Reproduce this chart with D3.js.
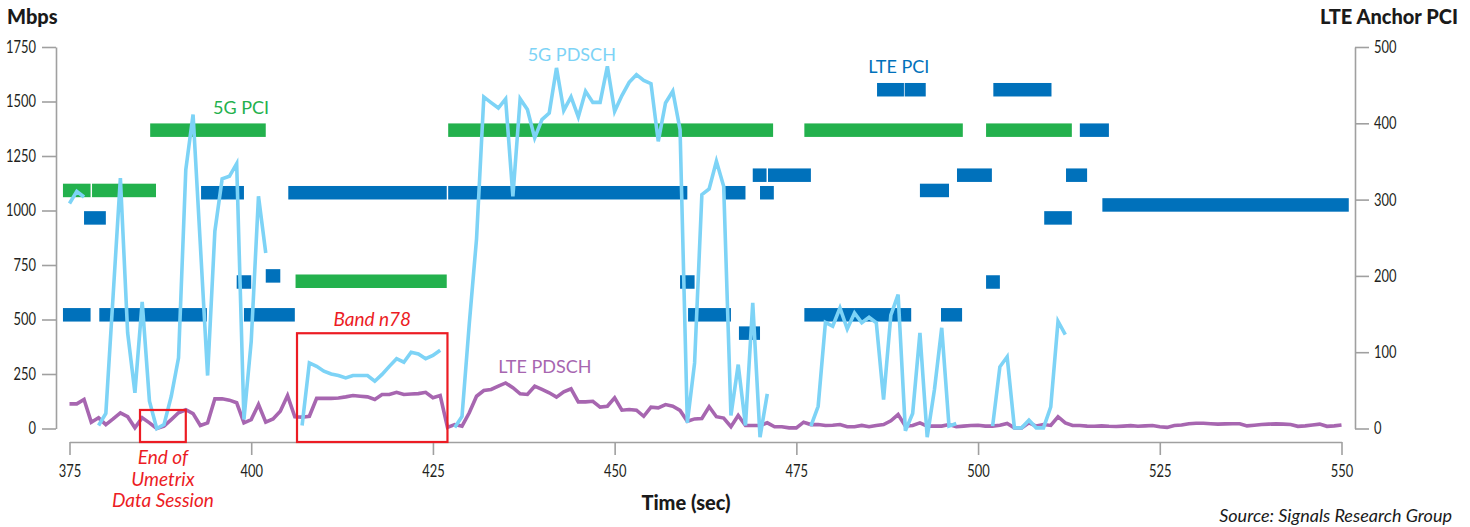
<!DOCTYPE html>
<html>
<head>
<meta charset="utf-8">
<script src="https://cdn.jsdelivr.net/npm/d3@7"></script>
<style>
  html, body { margin: 0; padding: 0; background: #fff; }
  svg { display: block; }
  .tick text { font-family: 'Lato', sans-serif; font-size: 17px; fill: #231f20; }
  .axis path, .axis line { stroke: #a0a0a0; stroke-width: 1.6px; }
</style>
</head>
<body>
<svg id="chart" width="1470" height="527"></svg>
<script>
// Throughput samples, one per second (Mbps); null = no sample
const tStart = 375;
const pdsch5g = [
  1032, 1088, 1062, null, 14, 69, 609, 1149, 439, 164,        // 375-384
  581, 125, 0, 18, 148, 324, 1187, 1440, 843, 243,            // 385-394
  905, 1145, 1157, 1215, 41, 400, 1065, 805, null, null,      // 395-404
  null, null, 14, 301, 285, 263, 250, 243, 232, 243,          // 405-414
  243, 243, 217, 248, 285, 320, 304, 350, 342, 320,           // 415-424
  335, 359, null, 5, 55, 480, 870, 1521, 1495, 1470,          // 425-434
  1512, 1065, 1512, 1463, 1333, 1417, 1447, 1654, 1459, 1521, // 435-444
  1429, 1547, 1496, 1496, 1661, 1455, 1527, 1588, 1623, 1597, // 445-454
  1582, 1317, 1493, 1547, 1371, 26, 301, 1073, 1099, 1226,    // 455-464
  1111, 60, 293, 14, 576, -40, 159, null, null, null,         // 465-474
  null, null, 11, 102, 487, 469, 553, 457, 530, 485,          // 475-484
  510, 485, 133, 520, 614, -10, 69, 439, -40, 179,            // 485-494
  462, 11, 23, null, null, null, null, 11, 283, 329,          // 495-504
  3, 3, 38, 3, 3, 99, 492, 431                                // 505-512
];
const pdschLte = [
  113, 113, 133, 29, 49, 18, 44, 72, 54, 3,                   // 375-384
  49, 26, 0, 11, 41, 72, 86, 68, 14, 26,                      // 385-394
  136, 136, 130, 118, 26, 41, 110, 29, 44, 79,                // 395-404
  151, 54, 52, 56, 138, 138, 138, 140, 145, 151,              // 405-414
  148, 145, 133, 156, 156, 166, 156, 158, 160, 166,           // 415-424
  141, 151, 5, 18, 11, 72, 148, 174, 179, 194,                // 425-434
  209, 187, 159, 156, 194, 179, 164, 144, 168, 182,           // 435-444
  122, 122, 125, 98, 102, 141, 84, 87, 84, 56,                // 445-454
  98, 95, 110, 102, 83, 33, 44, 46, 100, 54,                  // 455-464
  48, 8, 60, 14, 14, 14, 26, 8, 8, 3,                         // 465-474
  3, 29, 18, 18, 14, 15, 18, 8, 8, 14,                        // 475-484
  8, 14, 18, 35, 64, 11, 14, 26, 11, 11,                      // 485-494
  11, 18, 8, 11, 14, 15, 11, 11, 15, 23,                      // 495-504
  3, 3, 26, 11, 18, 14, 54, 26, 14, 14,                       // 505-514
  11, 10, 12, 10, 9, 11, 13, 10, 12, 14,                      // 515-524
  8, 5, 14, 16, 22, 24, 24, 22, 20, 21,                       // 525-534
  22, 22, 12, 15, 18, 20, 21, 20, 18, 10,                     // 535-544
  12, 16, 20, 10, 12, 16                                      // 545-550
];

// Serving cell PCI spans: [from sec, to sec, PCI]
const pci5g = [
  [374.1, 377.9, 312], [378.1, 386.9, 312], [386.1, 402.0, 391],
  [406.1, 426.9, 193], [427.1, 471.8, 391], [476.1, 497.9, 391],
  [501.1, 512.9, 391]
];
const pciLte = [
  [374.1, 377.9, 149], [379.1, 393.9, 149], [399.0, 406.0, 149],
  [377.0, 380.0, 276], [393.1, 399.0, 309], [405.1, 426.9, 309],
  [427.1, 460.0, 309], [398.0, 400.0, 192], [402.0, 404.0, 200],
  [459.0, 461.0, 192], [460.1, 466.0, 149], [465.2, 468.0, 309],
  [469.0, 470.9, 332], [471.1, 477.0, 332], [470.0, 471.9, 309],
  [467.1, 470.0, 125], [476.1, 490.8, 149], [494.9, 497.8, 149],
  [492.0, 496.0, 312], [497.1, 501.9, 332], [512.1, 515.0, 332],
  [509.1, 512.9, 276], [501.1, 503.0, 192], [502.1, 510.1, 444],
  [486.1, 489.8, 444], [489.9, 492.8, 444], [514.0, 518.0, 391],
  [517.1, 551.0, 293]
];

// Axis ticks
const timeTicks = [375, 400, 425, 450, 475, 500, 525, 550];
const mbpsTicks = [0, 250, 500, 750, 1000, 1250, 1500, 1750];
const pciTicks = [0, 100, 200, 300, 400, 500];

// Highlighted periods: [from sec, to sec, top in Mbps]
const highlights = [[384.7, 391.0, 85], [406.3, 427.0, 437]];
const highlightNotes = [["End of", "Umetrix", "Data Session"], ["Band n78"]];

const C = {
  pdsch5g: '#7dd3f6', pdschLte: '#a766b0', pci5g: '#23b14d', pciLte: '#0071bb',
  red: '#ec1c24', text: '#1a1a1a'
};

const svg = d3.select('#chart');
const x = d3.scaleLinear().domain([375, 550]).range([69.5, 1341.5]);
const yL = d3.scaleLinear().domain([0, 1750]).range([428.5, 47]);
const yR = d3.scaleLinear().domain([0, 500]).range([428.5, 47]);
const xAxisY = 442;
const barH = 13.5;

// Narrow the tick numerals to a condensed width
function condense(sel, k) {
  sel.selectAll('.tick text').each(function () {
    const w = this.getComputedTextLength();
    d3.select(this).attr('textLength', w * k).attr('lengthAdjust', 'spacingAndGlyphs');
  });
}

// Axes
const gl = svg.append('g').attr('class', 'axis').attr('transform', 'translate(56,0)')
  .call(d3.axisLeft(yL).tickValues(mbpsTicks).tickSize(14).tickSizeOuter(0).tickPadding(6).tickFormat(d3.format('d')));
condense(gl, 0.76);
const gr = svg.append('g').attr('class', 'axis').attr('transform', 'translate(1355,0)')
  .call(d3.axisRight(yR).tickValues(pciTicks).tickSize(14).tickSizeOuter(0).tickPadding(5).tickFormat(d3.format('d')));
condense(gr, 0.76);
const xg = svg.append('g').attr('class', 'axis').attr('transform', `translate(0,${xAxisY})`)
  .call(d3.axisBottom(x).tickValues(timeTicks).tickSize(13).tickSizeOuter(0).tickPadding(6).tickFormat(d3.format('d')));
xg.selectAll('.tick text').attr('dy', '0.95em');
condense(xg, 0.76);

// PCI spans
function spans(data, color) {
  svg.append('g').selectAll('rect').data(data).join('rect')
    .attr('x', d => x(d[0])).attr('width', d => x(d[1]) - x(d[0]))
    .attr('y', d => yR(d[2]) - barH / 2).attr('height', barH)
    .attr('fill', color);
}
spans(pci5g, C.pci5g);
spans(pciLte, C.pciLte);

// Throughput lines
function series(values, color) {
  const pts = values.map((v, i) => [tStart + i, v]);
  const line = d3.line().defined(d => d[1] !== null).x(d => x(d[0])).y(d => yL(d[1]));
  svg.append('path').attr('d', line(pts)).attr('fill', 'none')
    .attr('stroke', color).attr('stroke-width', 3.6).attr('stroke-linejoin', 'miter');
}
series(pdschLte, C.pdschLte);
series(pdsch5g, C.pdsch5g);

// Highlight boxes and notes
const hb = svg.append('g');
highlights.forEach(h => {
  hb.append('rect').attr('x', x(h[0])).attr('y', yL(h[2]))
    .attr('width', x(h[1]) - x(h[0])).attr('height', xAxisY - yL(h[2]))
    .attr('fill', 'none').attr('stroke', C.red).attr('stroke-width', 2.2);
});
const noteFont = "'Lato', sans-serif";
highlightNotes[0].forEach((s, k) => {
  hb.append('text').text(s)
    .attr('x', (x(highlights[0][0]) + x(highlights[0][1])) / 2).attr('y', 464 + k * 21.5)
    .attr('text-anchor', 'middle').attr('font-family', noteFont).attr('font-style', 'italic')
    .attr('font-size', 19).attr('fill', C.red);
});
hb.append('text').text(highlightNotes[1][0])
  .attr('x', (x(highlights[1][0]) + x(highlights[1][1])) / 2).attr('y', yL(highlights[1][2]) - 7)
  .attr('text-anchor', 'middle').attr('font-family', noteFont).attr('font-style', 'italic')
  .attr('font-size', 19).attr('fill', C.red);

// Series labels
const labels = [
  ['5G PCI', 398.6, yR(412), C.pci5g],
  ['5G PDSCH', 444.1, yL(1686), C.pdsch5g],
  ['LTE PCI', 489.1, yR(466), C.pciLte],
  ['LTE PDSCH', 440.4, yL(255), C.pdschLte]
];
svg.append('g').selectAll('text').data(labels).join('text')
  .text(d => d[0]).attr('x', d => x(d[1])).attr('y', d => d[2])
  .attr('text-anchor', 'middle').attr('font-family', "'Lato', sans-serif")
  .attr('font-size', 18).attr('fill', d => d[3]);

// Titles
const titleFont = "'Lato', sans-serif";
svg.append('text').text('Mbps').attr('x', 7).attr('y', 24)
  .attr('font-family', titleFont).attr('font-weight', 900).attr('font-size', 20).attr('fill', C.text);
svg.append('text').text('LTE Anchor PCI').attr('x', 1458).attr('y', 24).attr('text-anchor', 'end')
  .attr('font-family', titleFont).attr('font-weight', 900).attr('font-size', 20).attr('fill', C.text);
svg.append('text').text('Time (sec)').attr('x', 686).attr('y', 510).attr('text-anchor', 'middle')
  .attr('font-family', titleFont).attr('font-weight', 900).attr('font-size', 20).attr('fill', C.text);
svg.append('text').text('Source: Signals Research Group').attr('x', 1452).attr('y', 522).attr('text-anchor', 'end')
  .attr('font-family', titleFont).attr('font-style', 'italic').attr('font-size', 18).attr('fill', C.text);
</script>
</body>
</html>
